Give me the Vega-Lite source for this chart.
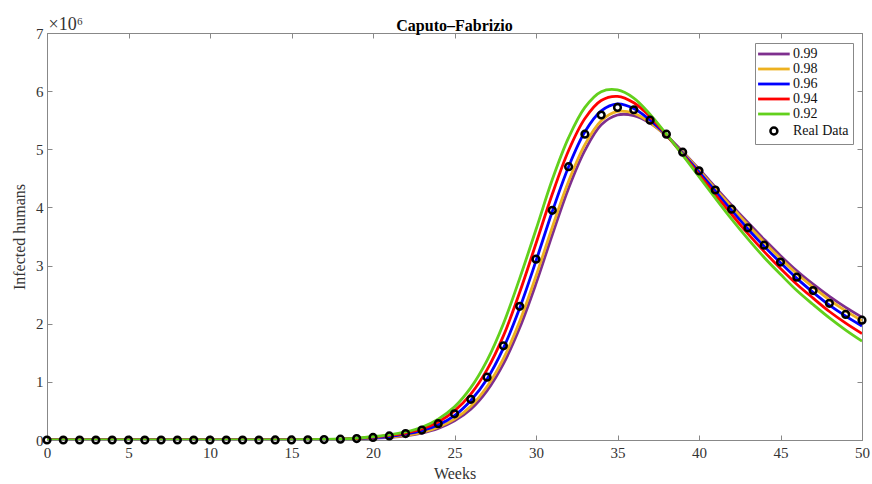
{
  "$schema": "https://vega.github.io/schema/vega-lite/v6.json",
  "width": 815,
  "height": 407,
  "autosize": "none",
  "padding": {"left": 47, "top": 33, "right": 10, "bottom": 44},
  "background": "white",
  "config": {
    "font": "Liberation Serif",
    "view": {"stroke": "#888888", "strokeWidth": 1},
    "axis": {"grid": false, "domainColor": "#888888", "tickColor": "#888888", "labelColor": "#333333", "titleColor": "#333333", "labelFont": "Liberation Serif", "titleFont": "Liberation Serif", "labelFontSize": 15, "titleFontSize": 16, "titleFontWeight": "normal"}
  },
  "title": {"text": "Caputo–Fabrizio", "font": "Liberation Serif", "fontSize": 16, "fontWeight": "bold", "color": "#000000", "offset": -19, "anchor": "middle"},
  "datasets": {
    "curves": [
      {"week": 0, "value": 0, "series": "0.99"}, {"week": 5, "value": 0, "series": "0.99"}, {"week": 10, "value": 0, "series": "0.99"}, {"week": 15, "value": 0.001, "series": "0.99"}, {"week": 16, "value": 0.003, "series": "0.99"}, {"week": 17, "value": 0.006, "series": "0.99"}, {"week": 18, "value": 0.01, "series": "0.99"}, {"week": 19, "value": 0.017, "series": "0.99"}, {"week": 20, "value": 0.03, "series": "0.99"}, {"week": 21, "value": 0.045, "series": "0.99"}, {"week": 22, "value": 0.07, "series": "0.99"}, {"week": 23, "value": 0.12, "series": "0.99"}, {"week": 24, "value": 0.2, "series": "0.99"}, {"week": 25, "value": 0.33, "series": "0.99"}, {"week": 26, "value": 0.53, "series": "0.99"}, {"week": 27, "value": 0.85, "series": "0.99"}, {"week": 28, "value": 1.31, "series": "0.99"}, {"week": 29, "value": 1.93, "series": "0.99"}, {"week": 30, "value": 2.69, "series": "0.99"}, {"week": 31, "value": 3.53, "series": "0.99"}, {"week": 32, "value": 4.33, "series": "0.99"}, {"week": 33, "value": 4.98, "series": "0.99"}, {"week": 34, "value": 5.42, "series": "0.99"}, {"week": 35, "value": 5.59, "series": "0.99"}, {"week": 36, "value": 5.58, "series": "0.99"}, {"week": 37, "value": 5.45, "series": "0.99"}, {"week": 38, "value": 5.23, "series": "0.99"}, {"week": 39, "value": 4.96, "series": "0.99"}, {"week": 40, "value": 4.66, "series": "0.99"}, {"week": 41, "value": 4.35, "series": "0.99"}, {"week": 42, "value": 4.04, "series": "0.99"}, {"week": 43, "value": 3.74, "series": "0.99"}, {"week": 44, "value": 3.45, "series": "0.99"}, {"week": 45, "value": 3.17, "series": "0.99"}, {"week": 46, "value": 2.91, "series": "0.99"}, {"week": 47, "value": 2.68, "series": "0.99"}, {"week": 48, "value": 2.47, "series": "0.99"}, {"week": 49, "value": 2.28, "series": "0.99"}, {"week": 50, "value": 2.11, "series": "0.99"},

      {"week": 0, "value": 0, "series": "0.98"}, {"week": 5, "value": 0, "series": "0.98"}, {"week": 10, "value": 0, "series": "0.98"}, {"week": 15, "value": 0.001, "series": "0.98"}, {"week": 16, "value": 0.003, "series": "0.98"}, {"week": 17, "value": 0.006, "series": "0.98"}, {"week": 18, "value": 0.011, "series": "0.98"}, {"week": 19, "value": 0.019, "series": "0.98"}, {"week": 20, "value": 0.035, "series": "0.98"}, {"week": 21, "value": 0.05, "series": "0.98"}, {"week": 22, "value": 0.08, "series": "0.98"}, {"week": 23, "value": 0.13, "series": "0.98"}, {"week": 24, "value": 0.22, "series": "0.98"}, {"week": 25, "value": 0.36, "series": "0.98"}, {"week": 26, "value": 0.58, "series": "0.98"}, {"week": 27, "value": 0.92, "series": "0.98"}, {"week": 28, "value": 1.4, "series": "0.98"}, {"week": 29, "value": 2.04, "series": "0.98"}, {"week": 30, "value": 2.82, "series": "0.98"}, {"week": 31, "value": 3.66, "series": "0.98"}, {"week": 32, "value": 4.45, "series": "0.98"}, {"week": 33, "value": 5.08, "series": "0.98"}, {"week": 34, "value": 5.49, "series": "0.98"}, {"week": 35, "value": 5.65, "series": "0.98"}, {"week": 36, "value": 5.62, "series": "0.98"}, {"week": 37, "value": 5.46, "series": "0.98"}, {"week": 38, "value": 5.23, "series": "0.98"}, {"week": 39, "value": 4.95, "series": "0.98"}, {"week": 40, "value": 4.64, "series": "0.98"}, {"week": 41, "value": 4.32, "series": "0.98"}, {"week": 42, "value": 4.01, "series": "0.98"}, {"week": 43, "value": 3.7, "series": "0.98"}, {"week": 44, "value": 3.4, "series": "0.98"}, {"week": 45, "value": 3.12, "series": "0.98"}, {"week": 46, "value": 2.86, "series": "0.98"}, {"week": 47, "value": 2.63, "series": "0.98"}, {"week": 48, "value": 2.41, "series": "0.98"}, {"week": 49, "value": 2.22, "series": "0.98"}, {"week": 50, "value": 2.05, "series": "0.98"},

      {"week": 0, "value": 0, "series": "0.96"}, {"week": 5, "value": 0, "series": "0.96"}, {"week": 10, "value": 0, "series": "0.96"}, {"week": 15, "value": 0.002, "series": "0.96"}, {"week": 16, "value": 0.004, "series": "0.96"}, {"week": 17, "value": 0.007, "series": "0.96"}, {"week": 18, "value": 0.012, "series": "0.96"}, {"week": 19, "value": 0.022, "series": "0.96"}, {"week": 20, "value": 0.04, "series": "0.96"}, {"week": 21, "value": 0.06, "series": "0.96"}, {"week": 22, "value": 0.1, "series": "0.96"}, {"week": 23, "value": 0.16, "series": "0.96"}, {"week": 24, "value": 0.26, "series": "0.96"}, {"week": 25, "value": 0.42, "series": "0.96"}, {"week": 26, "value": 0.68, "series": "0.96"}, {"week": 27, "value": 1.05, "series": "0.96"}, {"week": 28, "value": 1.58, "series": "0.96"}, {"week": 29, "value": 2.27, "series": "0.96"}, {"week": 30, "value": 3.08, "series": "0.96"}, {"week": 31, "value": 3.93, "series": "0.96"}, {"week": 32, "value": 4.7, "series": "0.96"}, {"week": 33, "value": 5.3, "series": "0.96"}, {"week": 34, "value": 5.66, "series": "0.96"}, {"week": 35, "value": 5.78, "series": "0.96"}, {"week": 36, "value": 5.7, "series": "0.96"}, {"week": 37, "value": 5.5, "series": "0.96"}, {"week": 38, "value": 5.24, "series": "0.96"}, {"week": 39, "value": 4.93, "series": "0.96"}, {"week": 40, "value": 4.61, "series": "0.96"}, {"week": 41, "value": 4.28, "series": "0.96"}, {"week": 42, "value": 3.95, "series": "0.96"}, {"week": 43, "value": 3.63, "series": "0.96"}, {"week": 44, "value": 3.33, "series": "0.96"}, {"week": 45, "value": 3.05, "series": "0.96"}, {"week": 46, "value": 2.78, "series": "0.96"}, {"week": 47, "value": 2.54, "series": "0.96"}, {"week": 48, "value": 2.32, "series": "0.96"}, {"week": 49, "value": 2.13, "series": "0.96"}, {"week": 50, "value": 1.96, "series": "0.96"},

      {"week": 0, "value": 0, "series": "0.94"}, {"week": 5, "value": 0, "series": "0.94"}, {"week": 10, "value": 0, "series": "0.94"}, {"week": 15, "value": 0.002, "series": "0.94"}, {"week": 16, "value": 0.004, "series": "0.94"}, {"week": 17, "value": 0.008, "series": "0.94"}, {"week": 18, "value": 0.014, "series": "0.94"}, {"week": 19, "value": 0.026, "series": "0.94"}, {"week": 20, "value": 0.05, "series": "0.94"}, {"week": 21, "value": 0.08, "series": "0.94"}, {"week": 22, "value": 0.12, "series": "0.94"}, {"week": 23, "value": 0.19, "series": "0.94"}, {"week": 24, "value": 0.31, "series": "0.94"}, {"week": 25, "value": 0.5, "series": "0.94"}, {"week": 26, "value": 0.79, "series": "0.94"}, {"week": 27, "value": 1.21, "series": "0.94"}, {"week": 28, "value": 1.79, "series": "0.94"}, {"week": 29, "value": 2.54, "series": "0.94"}, {"week": 30, "value": 3.38, "series": "0.94"}, {"week": 31, "value": 4.23, "series": "0.94"}, {"week": 32, "value": 4.98, "series": "0.94"}, {"week": 33, "value": 5.53, "series": "0.94"}, {"week": 34, "value": 5.84, "series": "0.94"}, {"week": 35, "value": 5.91, "series": "0.94"}, {"week": 36, "value": 5.8, "series": "0.94"}, {"week": 37, "value": 5.56, "series": "0.94"}, {"week": 38, "value": 5.25, "series": "0.94"}, {"week": 39, "value": 4.91, "series": "0.94"}, {"week": 40, "value": 4.57, "series": "0.94"}, {"week": 41, "value": 4.22, "series": "0.94"}, {"week": 42, "value": 3.88, "series": "0.94"}, {"week": 43, "value": 3.55, "series": "0.94"}, {"week": 44, "value": 3.24, "series": "0.94"}, {"week": 45, "value": 2.95, "series": "0.94"}, {"week": 46, "value": 2.68, "series": "0.94"}, {"week": 47, "value": 2.44, "series": "0.94"}, {"week": 48, "value": 2.21, "series": "0.94"}, {"week": 49, "value": 2.01, "series": "0.94"}, {"week": 50, "value": 1.83, "series": "0.94"},

      {"week": 0, "value": 0, "series": "0.92"}, {"week": 5, "value": 0, "series": "0.92"}, {"week": 10, "value": 0, "series": "0.92"}, {"week": 15, "value": 0.002, "series": "0.92"}, {"week": 16, "value": 0.005, "series": "0.92"}, {"week": 17, "value": 0.009, "series": "0.92"}, {"week": 18, "value": 0.017, "series": "0.92"}, {"week": 19, "value": 0.032, "series": "0.92"}, {"week": 20, "value": 0.06, "series": "0.92"}, {"week": 21, "value": 0.09, "series": "0.92"}, {"week": 22, "value": 0.14, "series": "0.92"}, {"week": 23, "value": 0.22, "series": "0.92"}, {"week": 24, "value": 0.36, "series": "0.92"}, {"week": 25, "value": 0.57, "series": "0.92"}, {"week": 26, "value": 0.9, "series": "0.92"}, {"week": 27, "value": 1.37, "series": "0.92"}, {"week": 28, "value": 2.0, "series": "0.92"}, {"week": 29, "value": 2.78, "series": "0.92"}, {"week": 30, "value": 3.62, "series": "0.92"}, {"week": 31, "value": 4.48, "series": "0.92"}, {"week": 32, "value": 5.2, "series": "0.92"}, {"week": 33, "value": 5.72, "series": "0.92"}, {"week": 34, "value": 5.99, "series": "0.92"}, {"week": 35, "value": 6.02, "series": "0.92"}, {"week": 36, "value": 5.88, "series": "0.92"}, {"week": 37, "value": 5.6, "series": "0.92"}, {"week": 38, "value": 5.26, "series": "0.92"}, {"week": 39, "value": 4.9, "series": "0.92"}, {"week": 40, "value": 4.53, "series": "0.92"}, {"week": 41, "value": 4.16, "series": "0.92"}, {"week": 42, "value": 3.8, "series": "0.92"}, {"week": 43, "value": 3.46, "series": "0.92"}, {"week": 44, "value": 3.14, "series": "0.92"}, {"week": 45, "value": 2.85, "series": "0.92"}, {"week": 46, "value": 2.57, "series": "0.92"}, {"week": 47, "value": 2.33, "series": "0.92"}, {"week": 48, "value": 2.1, "series": "0.92"}, {"week": 49, "value": 1.89, "series": "0.92"}, {"week": 50, "value": 1.7, "series": "0.92"}
    ],
    "real": [
      {"week": 0, "value": 0, "series": "Real Data"}, {"week": 1, "value": 0, "series": "Real Data"}, {"week": 2, "value": 0, "series": "Real Data"}, {"week": 3, "value": 0, "series": "Real Data"}, {"week": 4, "value": 0, "series": "Real Data"}, {"week": 5, "value": 0, "series": "Real Data"}, {"week": 6, "value": 0, "series": "Real Data"}, {"week": 7, "value": 0, "series": "Real Data"}, {"week": 8, "value": 0, "series": "Real Data"}, {"week": 9, "value": 0, "series": "Real Data"}, {"week": 10, "value": 0, "series": "Real Data"}, {"week": 11, "value": 0, "series": "Real Data"}, {"week": 12, "value": 0, "series": "Real Data"}, {"week": 13, "value": 0, "series": "Real Data"}, {"week": 14, "value": 0.001, "series": "Real Data"}, {"week": 15, "value": 0.002, "series": "Real Data"}, {"week": 16, "value": 0.004, "series": "Real Data"}, {"week": 17, "value": 0.008, "series": "Real Data"}, {"week": 18, "value": 0.014, "series": "Real Data"}, {"week": 19, "value": 0.025, "series": "Real Data"}, {"week": 20, "value": 0.045, "series": "Real Data"}, {"week": 21, "value": 0.07, "series": "Real Data"}, {"week": 22, "value": 0.11, "series": "Real Data"}, {"week": 23, "value": 0.17, "series": "Real Data"}, {"week": 24, "value": 0.28, "series": "Real Data"}, {"week": 25, "value": 0.45, "series": "Real Data"}, {"week": 26, "value": 0.7, "series": "Real Data"}, {"week": 27, "value": 1.08, "series": "Real Data"}, {"week": 28, "value": 1.62, "series": "Real Data"}, {"week": 29, "value": 2.3, "series": "Real Data"}, {"week": 30, "value": 3.11, "series": "Real Data"}, {"week": 31, "value": 3.95, "series": "Real Data"}, {"week": 32, "value": 4.7, "series": "Real Data"}, {"week": 33, "value": 5.26, "series": "Real Data"}, {"week": 34, "value": 5.59, "series": "Real Data"}, {"week": 35, "value": 5.72, "series": "Real Data"}, {"week": 36, "value": 5.68, "series": "Real Data"}, {"week": 37, "value": 5.5, "series": "Real Data"}, {"week": 38, "value": 5.26, "series": "Real Data"}, {"week": 39, "value": 4.95, "series": "Real Data"}, {"week": 40, "value": 4.63, "series": "Real Data"}, {"week": 41, "value": 4.3, "series": "Real Data"}, {"week": 42, "value": 3.97, "series": "Real Data"}, {"week": 43, "value": 3.65, "series": "Real Data"}, {"week": 44, "value": 3.35, "series": "Real Data"}, {"week": 45, "value": 3.06, "series": "Real Data"}, {"week": 46, "value": 2.8, "series": "Real Data"}, {"week": 47, "value": 2.57, "series": "Real Data"}, {"week": 48, "value": 2.35, "series": "Real Data"}, {"week": 49, "value": 2.16, "series": "Real Data"}, {"week": 50, "value": 2.06, "series": "Real Data"}
    ]
  },
  "layer": [
    {
      "data": {"name": "curves"},
      "mark": {"type": "line", "strokeWidth": 2.8, "interpolate": "catmull-rom", "clip": true},
      "encoding": {
        "x": {"field": "week", "type": "quantitative", "scale": {"domain": [0, 50], "nice": false, "zero": false},
              "axis": {"orient": "bottom", "title": "Weeks", "values": [0,5,10,15,20,25,30,35,40,45,50], "tickSize": -5, "labelPadding": 10, "titlePadding": 5, "labelFlush": false}},
        "y": {"field": "value", "type": "quantitative", "scale": {"domain": [0, 7], "nice": false},
              "axis": {"orient": "left", "title": "Infected humans", "values": [0,1,2,3,4,5,6,7], "tickSize": -5, "labelPadding": 9, "titlePadding": 8}},
        "color": {"field": "series", "type": "nominal",
                  "scale": {"domain": ["0.99", "0.98", "0.96", "0.94", "0.92", "Real Data"], "range": ["#7E2F8E", "#EDB120", "#0000FF", "#FF0000", "#62D01C", "#000000"]},
                  "legend": {"title": null, "orient": "none", "legendX": 708, "legendY": 10, "padding": 4, "rowPadding": 1,
                             "symbolSize": 1000, "symbolType": "M-0.5,0H1.5", "labelOffset": 20,
                             "strokeColor": "#888888", "fillColor": "white", "labelFont": "Liberation Serif", "labelFontSize": 14, "labelColor": "#111111", "symbolStrokeWidth": 2.8,
                             "encode": {"symbols": {"update": {
                               "shape": {"signal": "datum.value === 'Real Data' ? 'M0.28,0A0.22,0.22 0 1,0 0.72,0A0.22,0.22 0 1,0 0.28,0Z' : 'M-0.5,0H1.5'"},
                               "fill": {"value": "transparent"},
                               "strokeWidth": {"signal": "datum.value === 'Real Data' ? 2.5 : 2.8"}
                             }}}}}
      }
    },
    {
      "data": {"name": "real"},
      "mark": {"type": "point", "filled": false, "strokeWidth": 2.5, "size": 45, "opacity": 1, "fill": "white", "fillOpacity": 0},
      "encoding": {
        "x": {"field": "week", "type": "quantitative", "axis": {"orient": "top", "labels": false, "title": "×10⁶", "values": [0,5,10,15,20,25,30,35,40,45,50], "tickSize": -5, "titleX": 1, "titleY": -4, "titleAlign": "left", "titleBaseline": "alphabetic", "titleFontSize": 18}},
        "y": {"field": "value", "type": "quantitative", "axis": {"orient": "right", "labels": false, "title": null, "values": [0,1,2,3,4,5,6,7], "tickSize": -5}},
        "color": {"field": "series", "type": "nominal"}
      }
    }
  ],
  "resolve": {"axis": {"x": "independent", "y": "independent"}}
}
